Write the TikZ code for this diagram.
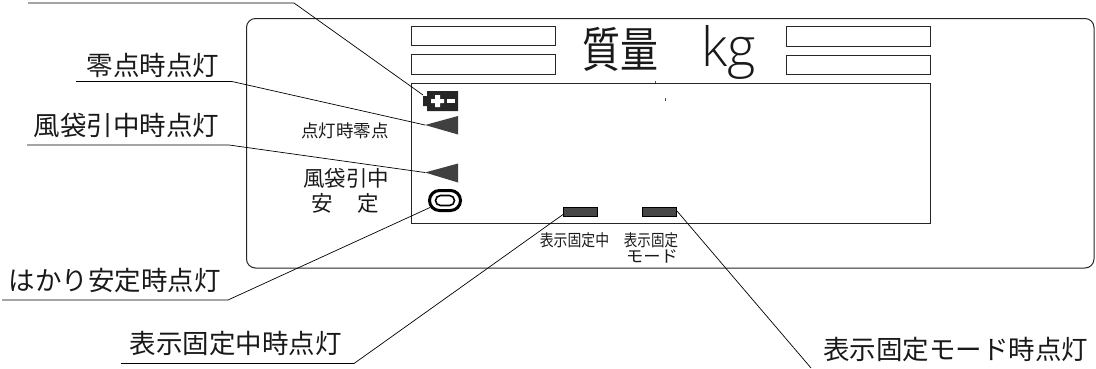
\documentclass[tikz,border=0pt]{standalone}
\usepackage{fontspec}
\newfontfamily\cjk{Noto Sans CJK JP}
\newfontfamily\kgfont{Open Sans Light}
\tikzset{
  x=1pt,y=-1pt,
  leader/.style={draw=black,line width=0.7pt,line join=miter},
  panel/.style={draw=black!85,line width=1pt},
  lamp/.style={draw=black,fill=black!72,line width=0.8pt},
  callout/.style={font=\cjk\fontsize{26.5}{27}\selectfont,inner sep=0pt,text=black!90},
  face/.style={inner sep=0pt,text=black!90,align=center},
}
\begin{document}
\begin{tikzpicture}
\useasboundingbox (0,0) rectangle (1096,368);
% panel
\draw[panel,rounded corners=9pt] (246.5,18.5) rectangle (1094,268);
\draw[panel] (411,26) rectangle (555.5,45.5);
\draw[panel] (411,54.5) rectangle (555.5,74);
\draw[panel] (786,26.5) rectangle (930,46);
\draw[panel] (786,55.5) rectangle (930,74.5);
\draw[panel] (411,83) rectangle (930,223);
\draw[black!70,line width=0.6pt] (655,81) -- (655,83) (665,98) -- (665,101);
% title
\node[face,font=\cjk\fontsize{48}{48}\selectfont,xscale=0.79] (title) at (620.5,49.5) {質量};
\node[face,font=\kgfont\fontsize{54}{54}\selectfont,anchor=base west] (unit) at (701,66) {kg};
% battery
\fill[black!85] (423,96) -- (427,96) -- (427,91) -- (458,91) -- (458,111) -- (427,111) -- (427,106) -- (423,106) -- cycle;
\fill[white] (431,99) -- (435,99) -- (435,95) -- (440,95) -- (440,99) -- (444,99) -- (444,103) -- (440,103) -- (440,107) -- (435,107) -- (435,103) -- (431,103) -- cycle;
\fill[white] (447,99) rectangle (455,103);
\coordinate (battery) at (423,95);
% triangles
\fill[black!75] (425,125) -- (458,116) -- (458,134.5) -- cycle;
\coordinate (zerotip) at (425,125);
\fill[black!75] (425,172.5) -- (458,163.5) -- (458,182.5) -- cycle;
\coordinate (bagtip) at (425,172.5);
% stable
\node[draw=black,line width=3pt,rounded corners=10pt,minimum width=31pt,minimum height=20pt,inner sep=0pt] (stableout) at (445,200.5) {};
\node[draw=black,line width=1.6pt,rounded corners=5pt,minimum width=19pt,minimum height=10pt,inner sep=0pt] (stablein) at (445,200.5) {};
\coordinate (stabletip) at (430,207.5);
% lamps
\node[lamp,minimum width=34pt,minimum height=9pt,inner sep=0pt] (holdlamp) at (580.5,212) {};
\node[lamp,minimum width=34pt,minimum height=9pt,inner sep=0pt] (modelamp) at (659.5,212) {};
% face labels
\node[face,font=\cjk\fontsize{17.5}{18}\selectfont] (t1) at (345,131) {点灯時零点};
\node[face,font=\cjk\fontsize{21.5}{22}\selectfont] (t2) at (346,178) {風袋引中};
\node[face,font=\cjk\fontsize{21.5}{22}\selectfont] (t3a) at (322,203) {安};
\node[face,font=\cjk\fontsize{21.5}{22}\selectfont] (t3b) at (368,203) {定};
\node[face,font=\cjk\fontsize{16.5}{17}\selectfont,xscale=0.84] (t4) at (574.5,240) {表示固定中};
\node[face,font=\cjk\fontsize{16.5}{17}\selectfont,xscale=0.82] (t5) at (651,240) {表示固定};
\node[face,font=\cjk\fontsize{16.5}{17}\selectfont,xscale=1.05] (t6) at (652,256.5) {モード};
% callouts
\node[callout] (c1) at (153,65) {零点時点灯};
\node[callout] (c2) at (126.5,125) {風袋引中時点灯};
\node[callout] (c3) at (115,280) {はかり安定時点灯};
\node[callout] (c4) at (235.5,343) {表示固定中時点灯};
\node[callout] (c5) at (955.5,349) {表示固定モード時点灯};
% leader coordinates
\coordinate (a0) at (28,3);   \coordinate (a1) at (294,3);
\coordinate (b0) at (76,81.5);\coordinate (b1) at (232,81.5);
\coordinate (d0) at (27,145); \coordinate (d1) at (229,145);
\coordinate (e0) at (2,300);  \coordinate (e1) at (228,300);
\coordinate (f0) at (121,363.5);\coordinate (f1) at (354,363.5);
\coordinate (g1) at (811,368);
\coordinate (holdtip) at (563,214.5);
\coordinate (modetip) at (677,211);
\draw[leader] (a0) -- (a1) -- (battery);
\draw[leader] (b0) -- (b1) -- (zerotip);
\draw[leader] (d0) -- (d1) -- (bagtip);
\draw[leader] (e0) -- (e1) -- (stabletip);
\draw[leader] (f0) -- (f1) -- (holdtip);
\draw[leader] (g1) -- (modetip);
\end{tikzpicture}
\end{document}
